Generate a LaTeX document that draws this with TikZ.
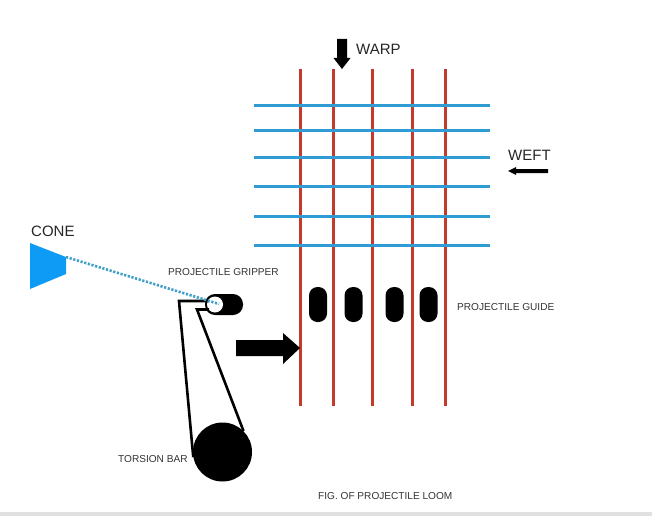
\documentclass[tikz,border=0pt]{standalone}
\usepackage{fontspec}
\setmainfont{Liberation Sans}
\definecolor{warpred}{HTML}{C23B2A}
\definecolor{weftblue}{HTML}{2F9BD3}
\definecolor{coneblue}{HTML}{0E9BF5}
\definecolor{yarnblue}{HTML}{3F9FC8}
\tikzset{
  warpline/.style={warpred, line width=3pt},
  weftline/.style={weftblue, line width=3.4pt},
  belt/.style={black, line width=2.6pt},
  biglabel/.style={inner sep=0pt, text=black!85, font=\fontsize{15}{18}\selectfont},
  smalllabel/.style={inner sep=0pt, text=black!80, font=\fontsize{10.1}{12}\selectfont},
  guide/.style={fill=black, minimum width=18pt, minimum height=35pt, inner sep=0pt, rounded corners=8.5pt}
}
\begin{document}
\begin{tikzpicture}[x=1pt, y=-1pt]
    \useasboundingbox (0,0) rectangle (652,516);
    \fill[white] (0,0) rectangle (652,516);
    \fill[black!12] (0,512) rectangle (652,516); % page edge

    % WARP and WEFT
    \foreach \x in {300,333,372,412,445} \draw[warpline] (\x,69) -- (\x,406);
    \foreach \y in {105.5,130.5,157.5,186.5,216.5,245.5} \draw[weftline] (254,\y) -- (490,\y);

    % Arrows
    \fill (337,39) -- (347,39) -- (347,58) -- (350.5,58) -- (342,69) -- (333.5,58) -- (337,58) -- cycle;
    \fill (548,169) -- (516,169) -- (516,167) -- (508,171) -- (516,175) -- (516,173) -- (548,173) -- cycle;
    \fill (236,340) -- (283,340) -- (283,333) -- (300,348) -- (283,364) -- (283,356) -- (236,356) -- cycle;

    % Guides
    \node[guide] (guidea) at (318,304.5) {};
    \node[guide] (guideb) at (353.5,304.5) {};
    \node[guide] (guidec) at (394.5,304.5) {};
    \node[guide] (guided) at (428.5,304.5) {};

    % CONE
    \fill[coneblue] (30,243) -- (66,257) -- (66,274) -- (30,289) -- cycle;
    \coordinate (conetip) at (66,257);

    % Gripper and torsion bar
    \node[fill=black, minimum width=38pt, minimum height=21pt, inner sep=0pt, rounded corners=10pt] (gripper) at (224,304.5) {};
    \fill[white] (215,304.5) circle (8);
    \coordinate (grippereye) at (219,304);
    \node[circle, fill=black, minimum size=59pt, inner sep=0pt] (torsionbar) at (222.5,452) {};
    \coordinate (frameleft) at (179,301);
    \coordinate (frameright) at (197,309.5);
    \draw[belt, line join=miter] (209,301) -- (frameleft) -- (torsionbar.190);
    \draw[belt, line join=miter] (209,309.5) -- (frameright) -- (torsionbar.north east);

    % Yarn
    \draw[yarnblue, line width=2.6pt, dash pattern=on 2.2pt off 1.6pt] (conetip) -- (grippereye);

    % Labels
    \node[biglabel, anchor=west] (warplabel) at (356,49) {WARP};
    \node[biglabel, anchor=west] (weftlabel) at (508,155) {WEFT};
    \node[biglabel, anchor=west] (conelabel) at (31,231) {CONE};
    \node[smalllabel, anchor=west] (gripperlabel) at (168,272) {PROJECTILE GRIPPER};
    \node[smalllabel, anchor=west] (guidelabel) at (457,307) {PROJECTILE GUIDE};
    \node[smalllabel, anchor=west] (barlabel) at (118,459) {TORSION BAR};
    \node[smalllabel, anchor=west] (figlabel) at (318,496) {FIG. OF PROJECTILE LOOM};
\end{tikzpicture}
\end{document}
